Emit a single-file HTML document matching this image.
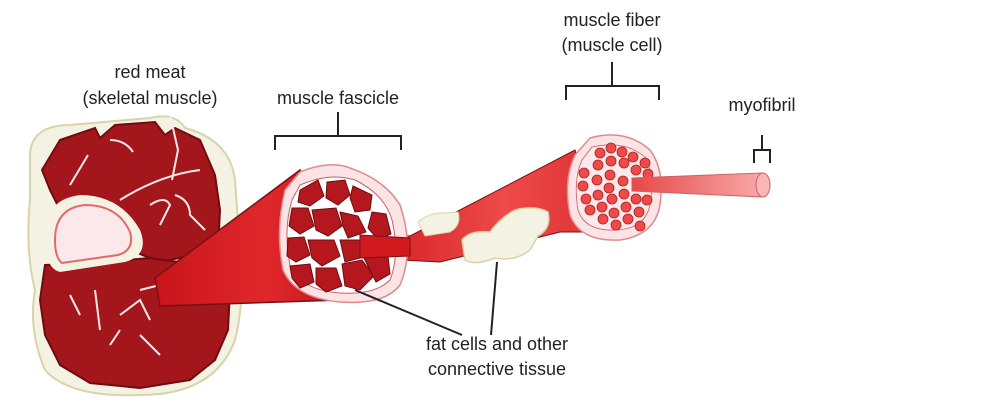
<!DOCTYPE html>
<html><head><meta charset="utf-8"><style>
html,body{margin:0;padding:0;background:#fff;}
svg{display:block;}
text{font-family:"Liberation Sans",sans-serif;font-size:18px;fill:#222;}
</style></head><body>
<svg width="986" height="409" viewBox="0 0 986 409" xmlns="http://www.w3.org/2000/svg">
<defs>
<linearGradient id="g1" x1="0" y1="0" x2="1" y2="0">
<stop offset="0" stop-color="#c8141a"/><stop offset="0.6" stop-color="#e0282c"/><stop offset="1" stop-color="#c8141a"/></linearGradient>
<linearGradient id="g2" x1="0" y1="0" x2="1" y2="0">
<stop offset="0" stop-color="#d01a1e"/><stop offset="0.6" stop-color="#ee4a4a"/><stop offset="1" stop-color="#dd3333"/></linearGradient>
<linearGradient id="g3" x1="0" y1="0" x2="1" y2="0">
<stop offset="0" stop-color="#e84848"/><stop offset="1" stop-color="#f7a8a8"/></linearGradient>
</defs>

<!-- meat -->
<path d="M30,160 Q28,125 70,125 L150,118 Q175,112 185,128 Q230,140 235,180 L240,250 Q245,300 235,340 Q215,395 140,395 Q70,398 45,370 Q28,330 35,290 Q25,250 30,200 Z" fill="#f4f2e2" stroke="#d7d4ab" stroke-width="2"/>
<path d="M42,170 L60,140 L95,128 L100,138 L115,125 L155,122 L165,135 L175,128 L200,140 L215,175 L220,210 L218,250 L160,262 L130,250 L100,225 L60,210 L50,190 Z" fill="#a3161c" stroke="#6e0c10" stroke-width="2"/>
<path d="M45,265 L100,262 L150,258 L200,265 L230,290 L228,330 L215,360 L190,380 L140,388 L90,383 L60,365 L45,335 L40,300 Z" fill="#a3161c" stroke="#6e0c10" stroke-width="2"/>
<path d="M45,240 Q42,200 80,195 Q120,195 140,230 Q150,255 125,262 L60,272 Q45,268 45,240 Z" fill="#f4f2e2"/>
<path d="M55,240 Q55,208 85,205 Q118,205 130,232 Q135,250 118,255 L62,263 Q55,258 55,240 Z" fill="#fbe8ea" stroke="#e06a6a" stroke-width="2"/>
<g stroke="#fbe8ea" stroke-width="2" fill="none">
<path d="M70,185 L88,155"/><path d="M110,140 Q125,140 133,152"/><path d="M120,200 Q160,175 200,170"/>
<path d="M150,205 Q165,195 170,205 L160,225"/><path d="M175,195 Q190,200 190,215 L205,230"/>
<path d="M70,295 L80,315 M95,290 L100,330 M120,315 L140,300 L150,320 M110,345 L120,330 M140,335 L160,355 M140,290 L160,285"/>
<path d="M170,115 L178,150 L172,180"/>
</g>

<!-- fascicle cylinder -->
<path d="M155,278 L300,170 L340,290 L340,300 L160,306 Z" fill="url(#g1)" stroke="#7a1014" stroke-width="1.5"/>
<!-- fiber strand -->
<path d="M360,232 L410,236 L575,150 L600,232 L560,232 L440,262 L360,258 Z" fill="url(#g2)" stroke="#7a1014" stroke-width="1"/>
<!-- fat blobs -->
<path d="M418,222 Q430,212 445,213 L458,212 Q462,225 450,232 L425,236 Z" fill="#f4f2e2" stroke="#d7d4ab"/>
<path d="M462,240 Q470,230 490,232 Q500,218 515,210 Q535,205 548,212 Q552,228 538,236 L530,250 Q515,262 495,258 Q475,266 465,260 Z" fill="#f4f2e2" stroke="#d7d4ab" stroke-width="1.5"/>

<!-- fascicle cross-section -->
<path d="M300,172 Q330,160 350,168 Q385,180 400,205 Q415,250 400,285 Q385,305 340,302 Q295,298 283,270 Q275,230 285,190 Z" fill="#fbe3e6" stroke="#e08a8a" stroke-width="1.5"/>
<path d="M300,185 Q330,172 355,180 Q385,195 392,220 Q400,255 390,280 Q375,295 340,293 Q300,290 290,265 Q283,230 292,200 Z" fill="#fff" stroke="#c86060"/>
<g fill="#b5171e" stroke="#6e0c10" stroke-width="1">
<polygon points="300,190 318,180 324,196 310,206 298,202"/>
<polygon points="327,182 345,180 350,195 338,205 326,198"/>
<polygon points="353,186 372,195 370,210 355,212 350,198"/>
<polygon points="292,208 308,208 314,226 300,234 289,226"/>
<polygon points="312,210 336,208 342,226 328,236 316,230"/>
<polygon points="340,212 358,216 366,232 348,238 343,226"/>
<polygon points="372,212 386,214 391,234 378,240 368,228"/>
<polygon points="288,238 304,237 310,255 296,262 287,256"/>
<polygon points="308,240 334,240 340,256 322,266 312,258"/>
<polygon points="340,240 360,240 360,258 345,262"/>
<polygon points="290,266 310,264 314,282 300,288 292,278"/>
<polygon points="316,268 336,268 342,286 326,292 316,284"/>
<polygon points="342,264 362,260 374,276 360,290 345,286"/>
<polygon points="364,258 388,256 390,274 376,282"/>
</g>
<path d="M360,235 L410,238 L410,256 L360,258 Z" fill="#d01a1e" stroke="#7a1014"/>

<!-- fiber cross-section -->
<path d="M590,138 Q625,128 650,150 Q665,170 660,205 Q655,235 620,240 Q580,242 570,215 Q563,180 575,155 Z" fill="#fbe3e6" stroke="#e08a8a" stroke-width="1.5"/>
<path d="M592,147 Q625,140 645,157 Q655,175 650,205 Q645,228 618,230 Q585,232 578,210 Q573,180 582,160 Z" fill="#fce9ec" stroke="#c86060" stroke-width="0.8"/>
<g fill="#ee4a4a" stroke="#b02020" stroke-width="0.8">
<circle cx="600" cy="153" r="5"/><circle cx="611" cy="148" r="5"/><circle cx="622" cy="152" r="5"/><circle cx="633" cy="157" r="5"/><circle cx="645" cy="163" r="5"/>
<circle cx="598" cy="165" r="5"/><circle cx="611" cy="161" r="5"/><circle cx="624" cy="163" r="5"/><circle cx="636" cy="170" r="5"/><circle cx="648" cy="174" r="5"/>
<circle cx="584" cy="173" r="5"/><circle cx="597" cy="180" r="5"/><circle cx="610" cy="175" r="5"/><circle cx="623" cy="181" r="5"/>
<circle cx="583" cy="186" r="5"/><circle cx="609" cy="188" r="5"/>
<circle cx="586" cy="199" r="5"/><circle cx="598" cy="195" r="5"/><circle cx="612" cy="199" r="5"/><circle cx="624" cy="194" r="5"/><circle cx="636" cy="199" r="5"/><circle cx="647" cy="200" r="5"/>
<circle cx="590" cy="210" r="5"/><circle cx="602" cy="207" r="5"/><circle cx="614" cy="213" r="5"/><circle cx="626" cy="207" r="5"/><circle cx="639" cy="212" r="5"/>
<circle cx="603" cy="219" r="5"/><circle cx="616" cy="225" r="5"/><circle cx="628" cy="219" r="5"/><circle cx="640" cy="226" r="5"/>
</g>
<!-- myofibril -->
<path d="M632,178 L762,173 L762,197 L632,191 Z" fill="url(#g3)" stroke="#d06060" stroke-width="1"/>
<ellipse cx="763" cy="185" rx="7" ry="12" fill="#f9b8b8" stroke="#d06060"/>

<!-- brackets -->
<g stroke="#222" stroke-width="2" fill="none">
<path d="M275,150 L275,136 L401,136 L401,150 M338,136 L338,112"/>
<path d="M566,100 L566,86 L659,86 L659,100 M612,86 L612,62"/>
<path d="M754,163 L754,150 L770,150 L770,163 M762,150 L762,135"/>
<path d="M355,290 L462,335"/><path d="M497,262 L491,335"/>
</g>

<text x="150" y="78" text-anchor="middle">red meat</text>
<text x="150" y="104" text-anchor="middle">(skeletal muscle)</text>
<text x="338" y="104" text-anchor="middle">muscle fascicle</text>
<text x="612" y="26" text-anchor="middle">muscle fiber</text>
<text x="612" y="51" text-anchor="middle">(muscle cell)</text>
<text x="762" y="111" text-anchor="middle">myofibril</text>
<text x="497" y="350" text-anchor="middle">fat cells and other</text>
<text x="497" y="375" text-anchor="middle">connective tissue</text>
</svg>
</body></html>
